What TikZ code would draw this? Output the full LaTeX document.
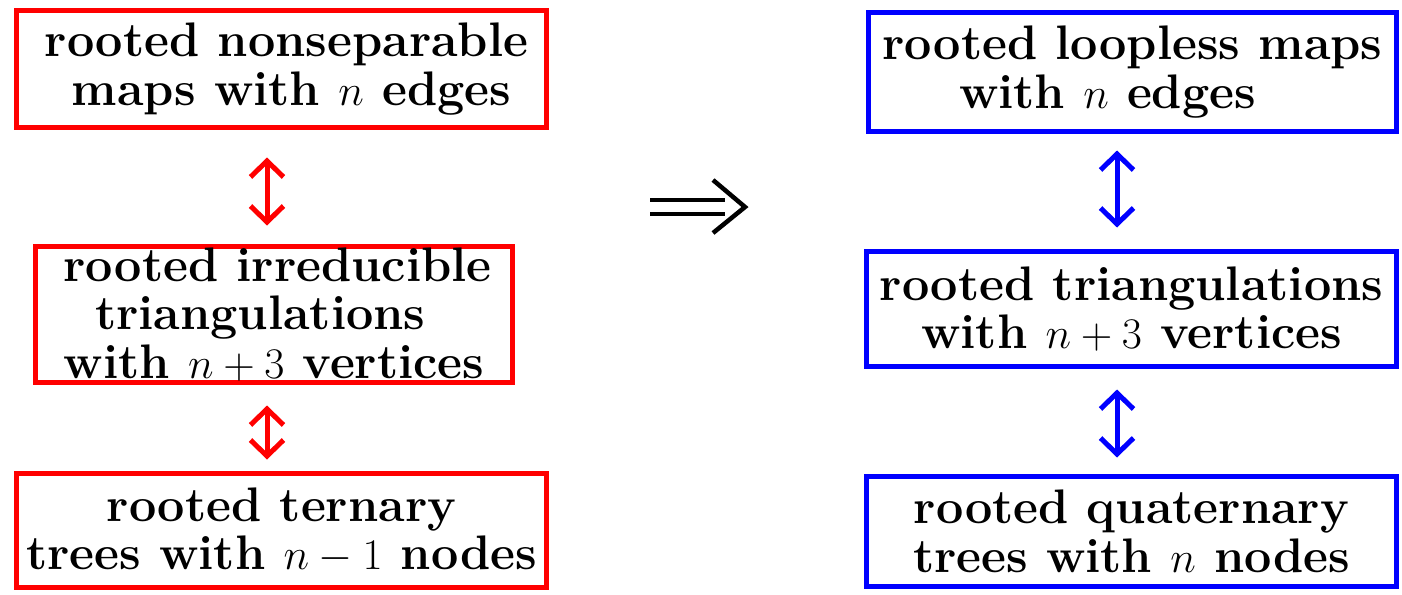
\documentclass[tikz,border=0pt]{standalone}
\usepackage{xcolor}
\usepackage{tikz}
\usepackage{amsmath}
\usetikzlibrary{arrows.meta, positioning}
\newcommand\boxfont{\fontsize{27.6}{27.6}\selectfont\bfseries}

\begin{document}
\begin{tikzpicture}[>={Straight Barb[length=0.32cm, width=0.66cm]},
  font=\boxfont,
  redbox/.style={draw=red, line width=0.1cm, align=center, inner sep=0pt},
  bluebox/.style={draw=blue, line width=0.1cm, align=center, inner sep=0pt},
  link/.style={<->, line width=0.1cm}]
  \useasboundingbox (0,0) rectangle (28.04,11.88);

  % left column
  \begin{scope}
    \node[redbox, minimum width=10.6cm, minimum height=2.34cm] (nonsep) at (5.63,10.5) {\hspace*{0.2cm}rooted nonseparable\\\hspace*{0.4cm}maps with $n$ edges};
    \node[redbox, minimum width=9.54cm, minimum height=2.72cm] (irred) at (5.48,5.59) {\hspace*{0.15cm}rooted irreducible\\triangulations\hspace*{0.55cm}\mbox{}\\with $n+3$ vertices};
    \node[redbox, minimum width=10.6cm, minimum height=2.28cm] (ternary) at (5.63,1.27) {rooted ternary\\trees with $n-1$ nodes};
    \coordinate (lx) at (5.34,0);
    \draw[link, red, shorten <=0.55cm, shorten >=0.37cm] (nonsep.south -| lx) -- (irred.north -| lx);
    \draw[link, red, shorten <=0.41cm, shorten >=0.23cm] (irred.south -| lx) -- (ternary.north -| lx);
  \end{scope}

  % implication
  \coordinate (impl) at (13.0,7.74);
  \begin{scope}[line width=0.09cm]
    \draw (impl) ++(0,0.14) -- ++(1.5,0);
    \draw (impl) ++(0,-0.14) -- ++(1.5,0);
    \draw (impl) ++(1.26,0.54) -- ++(0.64,-0.54) -- ++(-0.64,-0.52);
  \end{scope}

  % right column
  \begin{scope}
    \node[bluebox, minimum width=10.56cm, minimum height=2.38cm] (loopless) at (22.65,10.44) {rooted loopless maps\\with $n$ edges\hspace*{1cm}};
    \node[bluebox, minimum width=10.6cm, minimum height=2.3cm] (triang) at (22.63,5.7) {rooted triangulations\\with $n+3$ vertices};
    \node[bluebox, minimum width=10.6cm, minimum height=2.2cm] (quatern) at (22.63,1.25) {rooted quaternary\\trees with $n$ nodes};
    \coordinate (rx) at (22.34,0);
    \draw[link, blue, shorten <=0.33cm, shorten >=0.43cm] (loopless.south -| rx) -- (triang.north -| rx);
    \draw[link, blue, shorten <=0.41cm, shorten >=0.33cm] (triang.south -| rx) -- (quatern.north -| rx);
  \end{scope}
\end{tikzpicture}
\end{document}
